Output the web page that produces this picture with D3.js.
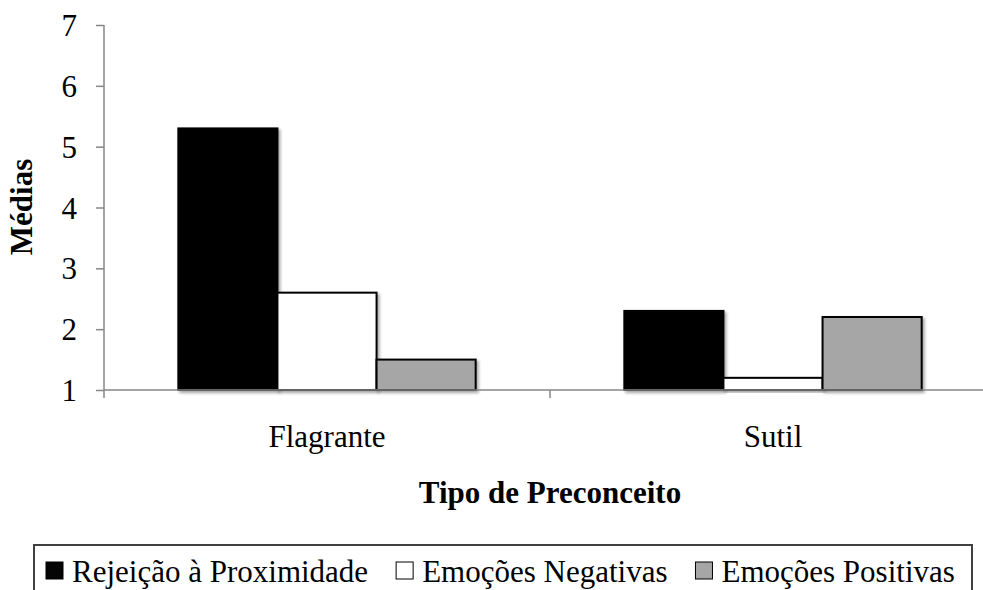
<!DOCTYPE html>
<html>
<head>
<meta charset="utf-8">
<script src="https://cdn.jsdelivr.net/npm/d3@7"></script>
</head>
<body style="margin:0;background:#fff">
<script>
// Data
const categories = ["Flagrante", "Sutil"];
const series = ["Rejeição à Proximidade", "Emoções Negativas", "Emoções Positivas"];
const rejeicao = [5.3, 2.3];
const negativas = [2.6, 1.2];
const positivas = [1.5, 2.2];
const yTicks = [1, 2, 3, 4, 5, 6, 7];

const seriesValues = [rejeicao, negativas, positivas];
const fills = ["#050505", "#ffffff", "#a6a6a6"];

const width = 983;
const height = 590;
const axisColor = "#868686";
const serifFont = "Liberation Serif";

const svg = d3.select("body")
  .append("svg")
  .attr("width", width)
  .attr("height", height)
  .attr("font-family", serifFont)
  .style("display", "block");

// soft shadow like the spreadsheet bars
svg.append("defs").append("filter")
  .attr("id", "shadow")
  .attr("x", "-10%").attr("y", "-10%")
  .attr("width", "130%").attr("height", "130%")
  .append("feDropShadow")
  .attr("dx", 2).attr("dy", 2)
  .attr("stdDeviation", 1.5)
  .attr("flood-color", "#000")
  .attr("flood-opacity", 0.35);

// Scales
const x = d3.scaleBand().domain(categories).range([104, 996]).padding(0);
const xs = d3.scaleBand().domain(series).range([0, x.bandwidth()])
  .paddingInner(0).paddingOuter(0.75);
const y = d3.scaleLinear().domain([1, 7]).range([390, 25]);

// Bars
const rows = categories.map((c, i) => ({
  cat: c,
  vals: series.map((s, j) => ({ s, j, v: seriesValues[j][i] }))
}));

svg.append("g")
  .selectAll("g")
  .data(rows)
  .join("g")
  .attr("transform", d => `translate(${x(d.cat)},0)`)
  .selectAll("rect")
  .data(d => d.vals)
  .join("rect")
  .attr("x", d => xs(d.s))
  .attr("width", xs.bandwidth())
  .attr("y", d => y(d.v))
  .attr("height", d => y(1) - y(d.v))
  .attr("fill", d => fills[d.j])
  .attr("stroke", "#000")
  .attr("stroke-width", 2)
  .attr("filter", "url(#shadow)");

// Y axis
const yAxis = svg.append("g")
  .attr("transform", "translate(104,0)")
  .call(d3.axisLeft(y).tickValues(yTicks).tickSize(8).tickPadding(19).tickFormat(d3.format("d")))
  .attr("font-family", serifFont)
  .attr("font-size", 31);
yAxis.select(".domain").attr("stroke", axisColor).attr("stroke-width", 1.5)
  .attr("d", "M0,25V390");
yAxis.selectAll(".tick line").attr("stroke", axisColor).attr("stroke-width", 1.5);
yAxis.selectAll(".tick text")
  .attr("fill", "#000")
  .attr("dy", "0.34em");

// X axis
const xAxis = svg.append("g")
  .attr("transform", `translate(0,${y(1)})`)
  .call(d3.axisBottom(x).tickSize(0).tickPadding(40))
  .attr("font-family", serifFont)
  .attr("font-size", 31);
xAxis.select(".domain").attr("stroke", axisColor).attr("stroke-width", 1.5)
  .attr("d", "M104,0H996");
xAxis.selectAll(".tick text")
  .attr("fill", "#000")
  .attr("dy", 0)
  .attr("y", 57);
// category boundary ticks
xAxis.append("g")
  .selectAll("line")
  .data([...categories.map(c => x(c)), x.range()[1]])
  .join("line")
  .attr("x1", d => d).attr("x2", d => d)
  .attr("y1", 0).attr("y2", 8)
  .attr("stroke", axisColor)
  .attr("stroke-width", 1.5);

// Axis titles
svg.append("text")
  .attr("transform", "translate(32,207) rotate(-90)")
  .attr("text-anchor", "middle")
  .attr("font-size", 31)
  .attr("font-weight", "bold")
  .text("Médias");

svg.append("text")
  .attr("x", 550)
  .attr("y", 503)
  .attr("text-anchor", "middle")
  .attr("font-size", 31)
  .attr("font-weight", "bold")
  .text("Tipo de Preconceito");

// Legend
const legend = svg.append("g").attr("font-size", 31);
legend.append("rect")
  .attr("x", 34)
  .attr("y", 545)
  .attr("width", 972 - 34)
  .attr("height", 80)
  .attr("fill", "none")
  .attr("stroke", "#404040")
  .attr("stroke-width", 2);

let lx = 46;
series.forEach((s, j) => {
  const g = legend.append("g").attr("transform", `translate(${lx},0)`);
  g.append("rect")
    .attr("x", 0).attr("y", 562)
    .attr("width", 17).attr("height", 17)
    .attr("fill", fills[j])
    .attr("stroke", "#000")
    .attr("stroke-width", 1);
  const t = g.append("text")
    .attr("x", 26)
    .attr("y", 582)
    .text(s);
  lx += 26 + t.node().getComputedTextLength() + 28;
});
</script>
</body>
</html>
